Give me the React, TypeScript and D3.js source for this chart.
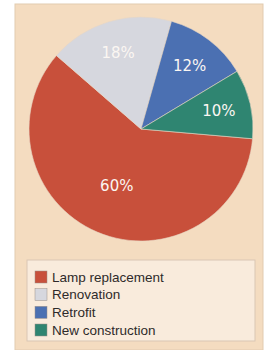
import React, { useEffect, useRef } from 'react';
import * as d3 from 'd3';

const categories = ['Lamp replacement', 'Renovation', 'Retrofit', 'New construction'];
const shares = [60, 18, 12, 10];
const colors = ['#c8503b', '#d6d7de', '#4b70b2', '#2f8571'];

const App = () => {
  const svgRef = useRef<SVGSVGElement>(null);

  useEffect(() => {
    const svg = d3.select(svgRef.current);
    svg.selectAll('*').remove();

    // panel background
    svg.append('rect')
      .attr('x', 15).attr('y', 4).attr('width', 248).attr('height', 346)
      .attr('fill', '#f4dcc0')
      .attr('stroke', '#e2cbb0').attr('stroke-width', 1);

    const cx = 141, cy = 129, r = 112;
    const g = svg.append('g').attr('transform', `translate(${cx},${cy})`);

    const offset = (95 * Math.PI) / 180;
    const pie = d3.pie<number>().sort(null)
      .startAngle(offset).endAngle(offset + 2 * Math.PI);
    const arcs = pie(shares);
    const arc = d3.arc<d3.PieArcDatum<number>>().innerRadius(0).outerRadius(r);

    g.selectAll('path')
      .data(arcs)
      .enter()
      .append('path')
      .attr('d', arc)
      .attr('fill', (d, i) => colors[i])
      .attr('stroke', '#e8d6c4')
      .attr('stroke-width', 0.6);

    // percent labels, the big slice gets its label pulled in a bit
    const maxShare = d3.max(shares) as number;
    g.selectAll('text.pct')
      .data(arcs)
      .enter()
      .append('text')
      .attr('class', 'pct')
      .attr('transform', (d) => {
        const lr = d.data === maxShare ? 62 : 80;
        const c = d3.arc<d3.PieArcDatum<number>>().innerRadius(lr).outerRadius(lr).centroid(d);
        return `translate(${c[0]},${c[1]})`;
      })
      .attr('text-anchor', 'middle')
      .attr('dy', '0.35em')
      .attr('fill', '#fbf6f2')
      .style('font-family', '"DejaVu Sans", sans-serif')
      .style('font-size', '15px')
      .text((d) => `${d.data}%`);

    // legend
    const lg = svg.append('g');
    lg.append('rect')
      .attr('x', 27).attr('y', 260).attr('width', 228).attr('height', 81)
      .attr('fill', '#f9ebdc')
      .attr('stroke', '#d9c6b3').attr('stroke-width', 1);

    const y = d3.scalePoint<string>().domain(categories).range([277, 330]);
    const rows = lg.selectAll('g.row')
      .data(categories)
      .enter()
      .append('g')
      .attr('class', 'row')
      .attr('transform', (d) => `translate(35,${y(d)})`);

    rows.append('rect')
      .attr('x', 0).attr('y', -6).attr('width', 12).attr('height', 12)
      .attr('fill', (d, i) => colors[i])
      .attr('stroke', '#9a8e86').attr('stroke-width', 0.5);

    rows.append('text')
      .attr('x', 17).attr('dy', '0.35em')
      .attr('fill', '#2e2a2a')
      .style('font-family', '"Liberation Sans", Arial, sans-serif')
      .style('font-size', '13.5px')
      .text((d) => d);
  }, []);

  return (
    <svg ref={svgRef} width={265} height={350}
      style={{ position: 'absolute', left: 0, top: 0, background: '#fff' }} />
  );
};

export default App;
